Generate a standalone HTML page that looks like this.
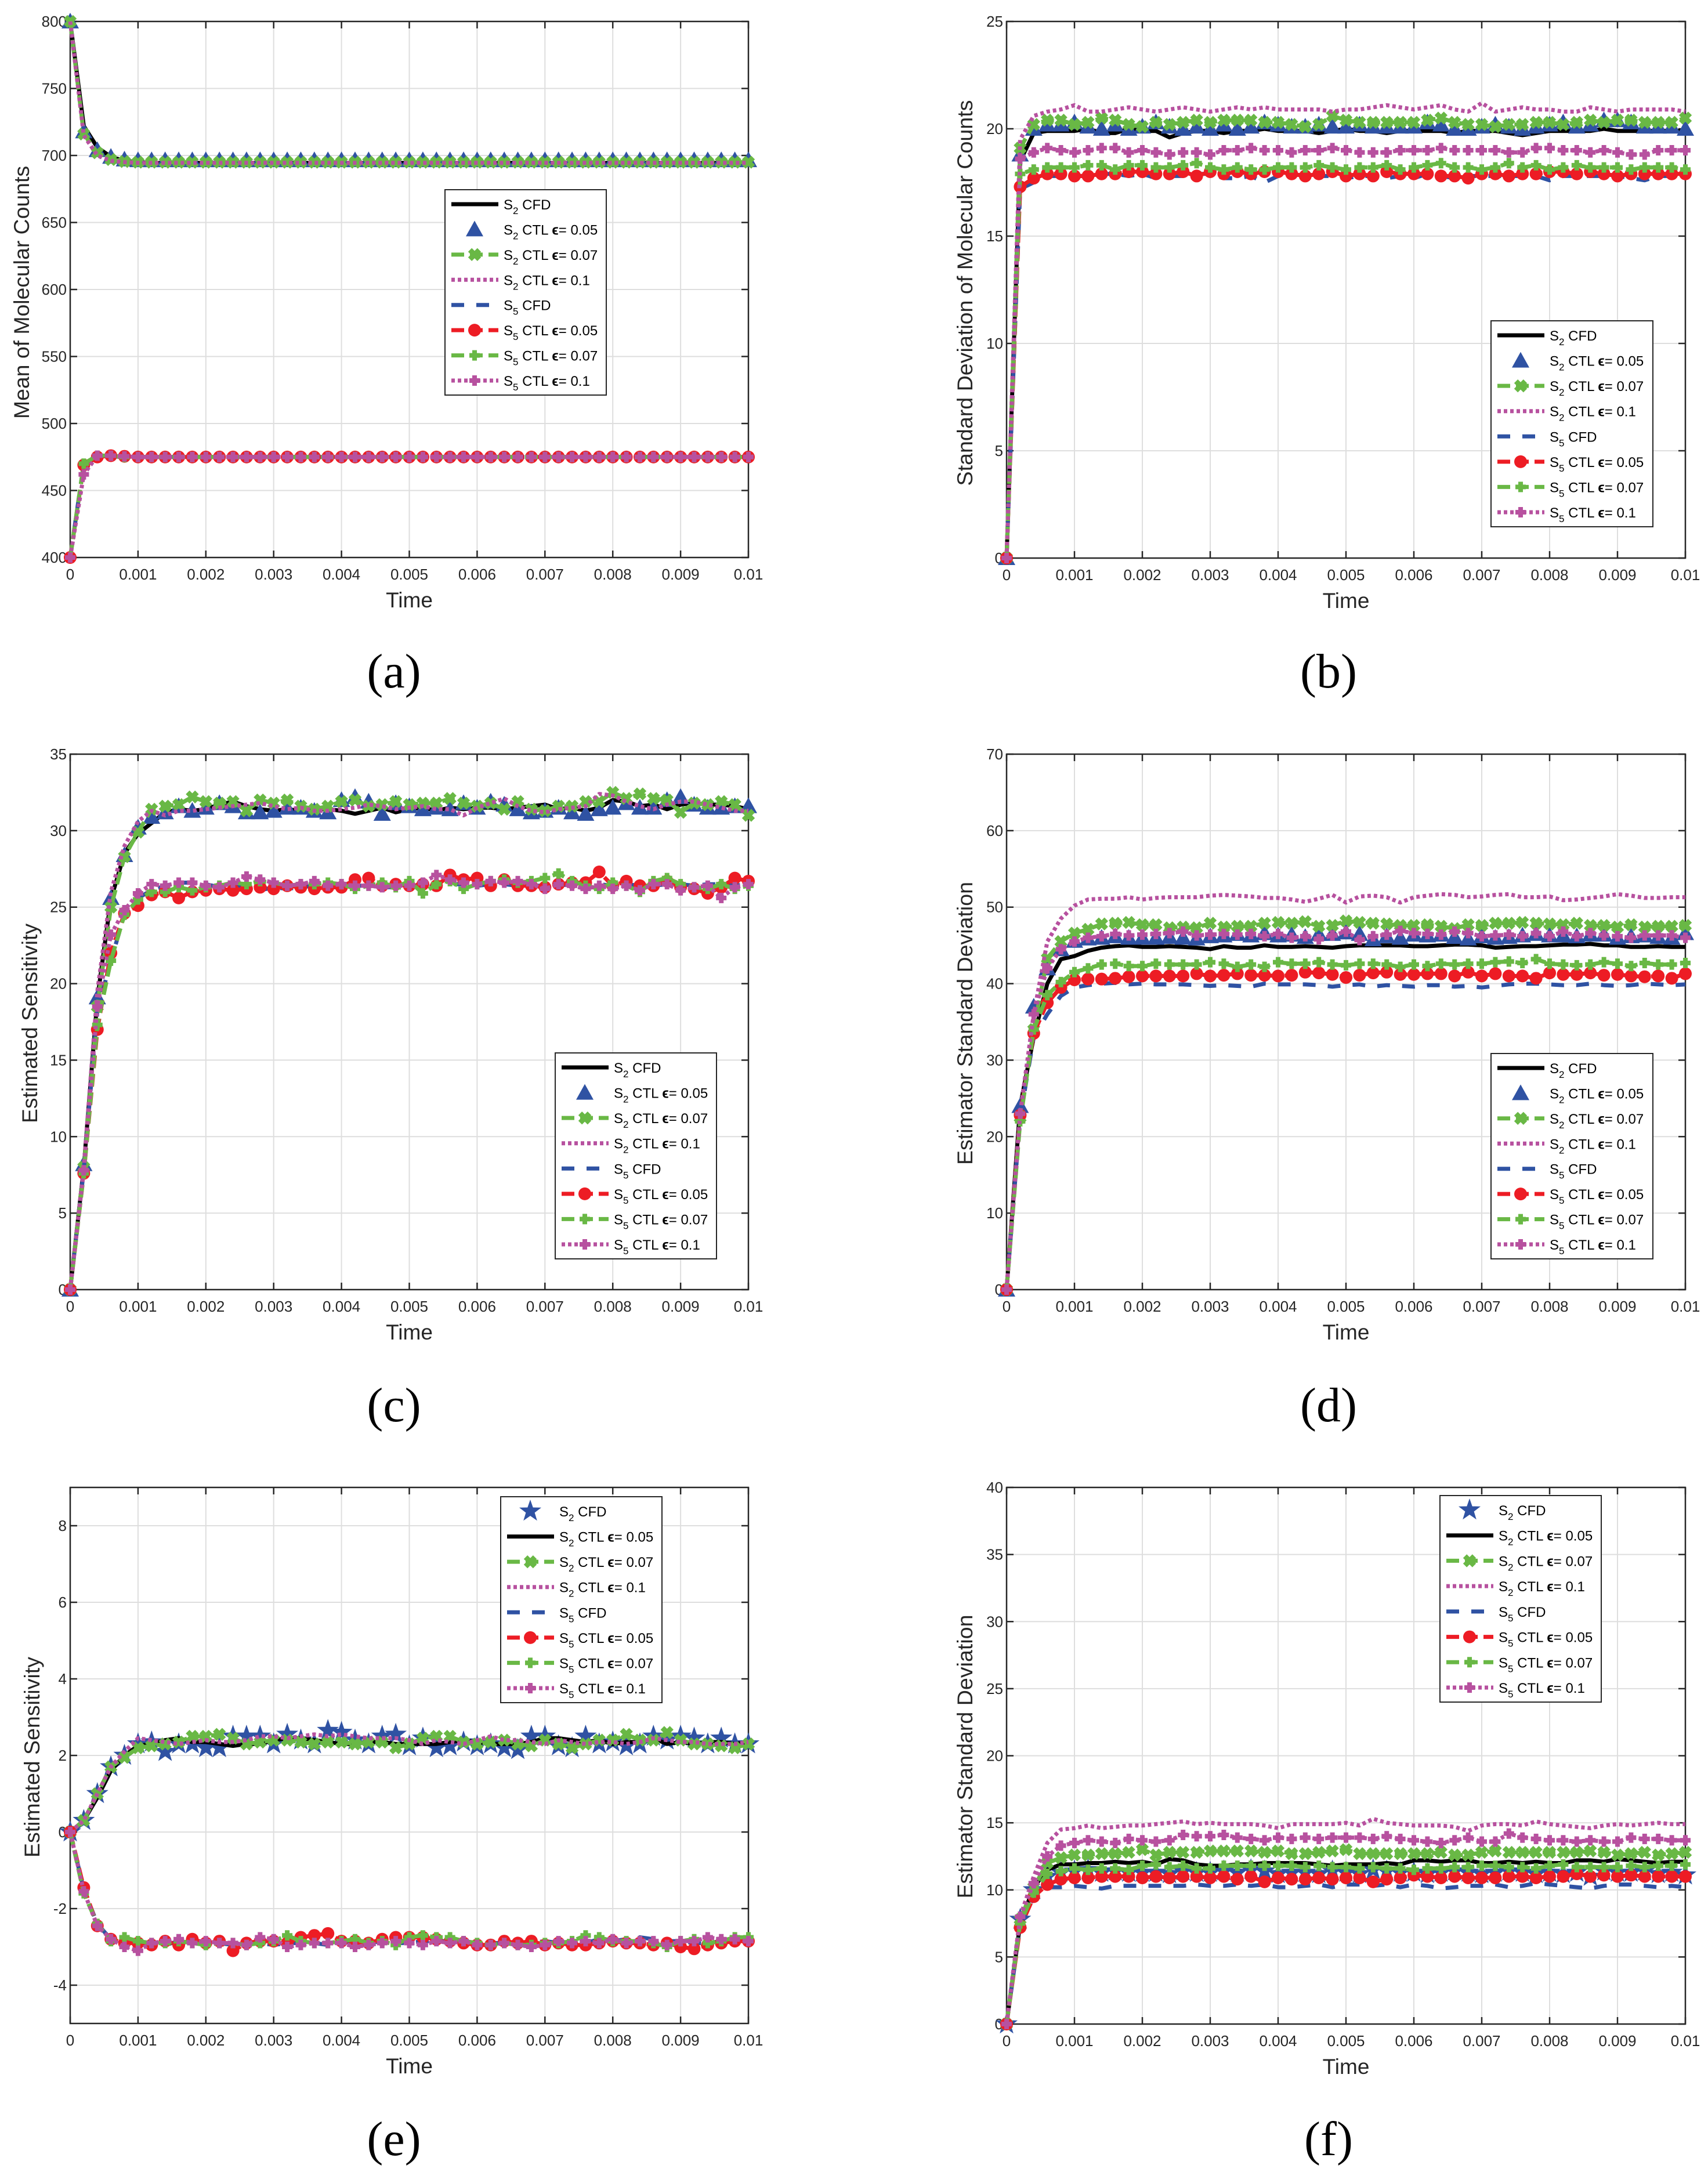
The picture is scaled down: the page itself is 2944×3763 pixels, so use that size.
<!DOCTYPE html>
<html><head><meta charset="utf-8"><title>CFD vs CTL comparison figure</title>
<style>
html,body{margin:0;padding:0;background:#fff;}
svg{display:block;font-family:"Liberation Sans",Arial,sans-serif;}
</style></head>
<body>
<svg id="fig" xmlns="http://www.w3.org/2000/svg" width="2944" height="3763" viewBox="0 0 2944 3763">
<rect x="0" y="0" width="2944" height="3763" fill="#fff"/>
</svg>
<script>
const time = [0,0.0002,0.0004,0.0006,0.0008,0.001,0.0012,0.0014,0.0016,0.0018,0.002,0.0022,0.0024,0.0026,0.0028,0.003,0.0032,0.0034,0.0036,0.0038,0.004,0.0042,0.0044,0.0046,0.0048,0.005,0.0052,0.0054,0.0056,0.0058,0.006,0.0062,0.0064,0.0066,0.0068,0.007,0.0072,0.0074,0.0076,0.0078,0.008,0.0082,0.0084,0.0086,0.0088,0.009,0.0092,0.0094,0.0096,0.0098,0.01];
const xTickLabels = ["0","0.001","0.002","0.003","0.004","0.005","0.006","0.007","0.008","0.009","0.01"];

// (a) mean of molecular counts
const aS2cfd = [800,722,706,699,696,695,694.5,694.5,694.5,694.5,694.5, 694.5,694.5,694.5,694.5,694.5,694.5,694.5,694.5,694.5,694.5, 694.5,694.5,694.5,694.5,694.5,694.5,694.5,694.5,694.5,694.5, 694.5,694.5,694.5,694.5,694.5,694.5,694.5,694.5,694.5,694.5, 694.5,694.5,694.5,694.5,694.5,694.5,694.5,694.5,694.5,694.5];
const aS2t05 = [800,718,704,699,697,696.5,696.5,696.5,696.5,696.5,696.5, 696.5,696.5,696.5,696.5,696.5,696.5,696.5,696.5,696.5,696.5, 696.5,696.5,696.5,696.5,696.5,696.5,696.5,696.5,696.5,696.5, 696.5,696.5,696.5,696.5,696.5,696.5,696.5,696.5,696.5,696.5, 696.5,696.5,696.5,696.5,696.5,696.5,696.5,696.5,696.5,696.5];
const aS2t07 = [800,716,702,697,695.5,695,695,695,695,695,695, 695,695,695,695,695,695,695,695,695,695, 695,695,695,695,695,695,695,695,695,695, 695,695,695,695,695,695,695,695,695,695, 695,695,695,695,695,695,695,695,695,695];
const aS2t1 = [800,715,700,696,695,694.5,694.5,694.5,694.5,694.5,694.5, 694.5,694.5,694.5,694.5,694.5,694.5,694.5,694.5,694.5,694.5, 694.5,694.5,694.5,694.5,694.5,694.5,694.5,694.5,694.5,694.5, 694.5,694.5,694.5,694.5,694.5,694.5,694.5,694.5,694.5,694.5, 694.5,694.5,694.5,694.5,694.5,694.5,694.5,694.5,694.5,694.5];
const aS5cfd = [400,470,474,475.5,475,475,475,475,475,475,475, 475,475,475,475,475,475,475,475,475,475, 475,475,475,475,475,475,475,475,475,475, 475,475,475,475,475,475,475,475,475,475, 475,475,475,475,475,475,475,475,475,475];
const aS5t05 = [400,469,475,476,475.5,475,475,475,475,475,475, 475,475,475,475,475,475,475,475,475,475, 475,475,475,475,475,475,475,475,475,475, 475,475,475,475,475,475,475,475,475,475, 475,475,475,475,475,475,475,475,475,475];
const aS5t07 = [400,470,476,476,475,475,475,475,475,475,475, 475,475,475,475,475,475,475,475,475,475, 475,475,475,475,475,475,475,475,475,475, 475,475,475,475,475,475,475,475,475,475, 475,475,475,475,475,475,475,475,475,475];
const aS5t1 = [400,462,476,476,475.5,475,475,475,475,475,475, 475,475,475,475,475,475,475,475,475,475, 475,475,475,475,475,475,475,475,475,475, 475,475,475,475,475,475,475,475,475,475, 475,475,475,475,475,475,475,475,475,475];

// (b) std of molecular counts
const bS2cfd = [0,18.5,19.8,19.9,19.9,19.9,20,19.8,19.8,20,19.9, 19.9,19.6,19.8,19.9,19.9,19.8,19.9,19.9,20,19.9, 19.9,19.9,19.8,19.9,20,19.9,19.9,19.8,19.9,19.9, 19.9,19.9,19.8,19.9,19.9,19.9,19.8,19.7,19.8,19.9, 19.9,19.9,19.9,20,19.9,19.9,19.9,19.9,19.9,19.9];
const bS2t05 = [0,18.8,20,20.2,20.2,20.3,20.1,20,20.2,20,20.1, 20.3,20.1,20,20.1,20,20.2,20,20.1,20.3,20.2, 20.1,20.1,20.2,20.1,20.1,20.2,20.1,20.1,20.1,20.1, 20.3,20.2,20,20,20.1,20.2,20.1,20,20.1,20.2, 20.3,20.1,20.2,20.4,20.4,20.3,20.1,20.1,20.1,20];
const bS2t07 = [0,19.1,20.2,20.4,20.4,20.2,20.3,20.5,20.4,20.2,20.1, 20.3,20.2,20.3,20.4,20.3,20.4,20.4,20.4,20.3,20.3, 20.2,20.1,20.2,20.6,20.4,20.3,20.3,20.3,20.3,20.3, 20.4,20.5,20.3,20.2,20.2,20.1,20.2,20.2,20.3,20.3, 20.2,20.3,20.4,20.3,20.4,20.4,20.3,20.3,20.3,20.5];
const bS2t1 = [0,19.5,20.6,20.8,20.9,21.1,20.8,20.8,20.9,21,20.9, 20.8,20.9,21,20.9,20.8,20.9,21,20.9,21,20.9, 20.9,20.9,20.9,20.8,20.9,20.9,21,21.1,21,20.9, 21,21.1,20.9,20.8,21.2,20.8,20.9,21,20.9,20.9, 20.8,20.8,21,20.9,20.8,20.9,20.9,20.9,20.9,20.8];
const bS5cfd = [0,17.2,17.5,17.8,17.8,17.8,17.8,17.9,17.9,17.8,17.9, 17.7,17.8,17.8,17.9,17.9,17.7,17.7,17.8,17.5,17.8, 17.9,17.8,17.8,17.8,17.7,17.8,17.8,17.7,17.8,17.7, 17.9,17.8,17.7,17.8,17.8,17.8,17.8,17.8,17.8,17.6, 17.8,17.8,17.8,17.8,17.8,17.7,17.6,17.8,17.8,17.9];
const bS5t05 = [0,17.3,17.7,17.9,17.9,17.8,17.8,17.9,17.9,18,18, 17.9,17.9,18,17.8,18,17.9,18,17.9,18,18, 17.9,17.8,17.9,18,17.8,17.9,17.8,18,17.9,17.9, 17.9,17.8,17.8,17.7,17.9,17.9,17.8,17.9,17.9,18, 18,17.9,18,17.9,17.8,17.9,17.9,17.9,17.9,17.9];
const bS5t07 = [0,17.9,18.1,18.2,18.2,18.2,18.3,18.3,18.1,18.3,18.3, 18.2,18.2,18.3,18.4,18.2,18.1,18.2,18.1,18.1,18.2, 18.2,18.2,18.3,18.2,18.1,18.2,18.2,18.3,18.1,18.2, 18.3,18.4,18.2,18.2,18.1,18.2,18.4,18.2,18.3,18.1, 18.2,18.3,18.2,18.2,18.2,18.1,18.2,18.2,18.2,18.1];
const bS5t1 = [0,18.6,18.9,19.1,19,18.9,19,19.1,19.1,18.9,19, 18.9,18.8,18.9,18.9,18.8,19,19,19.1,19,19, 18.9,19,19,19.1,19,18.9,18.9,18.9,19,19, 19,19.1,19,19,19,19,18.9,18.9,19.1,19.1, 19,19,18.9,19,18.9,18.8,18.8,19,19,19];

// (c) estimated sensitivity
const cS2cfd = [0,8,19,25.5,28.5,29.8,30.5,31.2,31.4,31.3,31.4, 31.7,31.9,31.6,31.4,31.3,31.4,31.3,31.4,31.4,31.3, 31.1,31.3,31.5,31.2,31.4,31.5,31.3,31.5,31.4,31.5, 31.5,31.4,31.5,31.6,31.7,31.4,31.5,31.3,31.5,32, 31.9,31.6,31.7,31.4,31.7,31.8,31.7,31.7,31.6,31.4];
const cS2t05 = [0,8.2,19.1,25.6,28.4,30.2,30.9,31.2,31.6,31.3,31.5, 31.8,31.6,31.2,31.2,31.3,31.5,31.5,31.3,31.2,32, 32.2,31.9,31.1,31.8,31.6,31.4,31.5,31.4,31.8,31.5, 31.9,31.7,31.4,31.2,31.3,31.5,31.2,31.1,31.4,31.5, 31.8,31.5,31.5,32,32.2,31.7,31.5,31.5,31.6,31.6];
const cS2t07 = [0,8,18.5,25,28.3,29.9,31.4,31.6,31.7,32.2,31.9, 31.8,31.9,31.3,32,31.8,32,31.6,31.4,31.6,31.9, 32,31.6,31.7,31.9,31.7,31.8,31.8,32.1,31.8,31.6, 31.8,31.4,31.9,31.4,31.3,31.6,31.6,31.9,31.9,32.5, 32.1,32.4,32.1,32,31.2,31.8,31.7,31.9,31.7,31];
const cS2t1 = [0,8,19.5,26,29,30.6,31.3,31,31.3,31.3,31.4, 31.5,31.6,31.7,31.8,31.6,31.4,31.5,31.3,31.3,31.4, 31.5,31.7,31.6,31.4,31.5,31.6,31.4,31.4,31,31.5, 31.8,32.1,31.6,31.3,31.2,31.4,31.5,31.6,32.4,32.3, 31.9,31.6,31.4,31.7,31.9,31.9,31.7,31.5,31.3,31.3];
const cS5cfd = [0,7.8,18.2,21.5,24.5,25.6,26.1,26.4,26.6,26.6,26.5, 26.3,26.5,26.3,26.1,26.3,26.2,26.3,26.4,26.3,26.3, 26.4,26.4,26.3,26.3,26.4,26.4,26.3,26.5,26.5,26.4, 26.5,26.5,26.4,26.4,26.4,26.5,26.4,26.5,26.5,26.4, 26.5,26.4,26.4,26.5,26.5,26.4,26.5,26.5,26.4,26.5];
const cS5t05 = [0,7.6,17,22,24.6,25.1,25.8,26,25.6,26,26.1, 26.2,26.1,26.2,26.3,26.2,26.4,26.3,26.2,26.3,26.3, 26.8,26.9,26.4,26.5,26.4,26.5,26.4,27.1,26.8,26.9, 26.4,26.8,26.4,26.4,26.3,26.5,26.6,26.6,27.3,26.4, 26.7,26.4,26.4,26.7,26.3,26.2,25.9,26.3,26.9,26.7];
const cS5t07 = [0,7.6,17.3,21.5,24.5,25.5,26,26,26.3,26.1,26.3, 26.4,26.6,26.5,26.7,26.6,26.4,26.5,26.5,26.6,26.5, 26.2,26.4,26.6,26.3,26.7,25.9,26.5,26.7,26.2,26.5, 26.7,26.8,26.6,26.7,26.9,27.2,26.7,26.4,26.2,26.6, 26.4,26,26.7,26.9,26.5,26.3,26.2,26.5,26.2,26.4];
const cS5t1 = [0,7.8,18.5,23.2,24.8,25.9,26.5,26.4,26.6,26.6,26.4, 26.3,26.6,27,26.8,26.6,26.4,26.5,26.7,26.4,26.5, 26.4,26.4,26.3,26.4,26.4,26.6,27.1,26.8,26.6,26.5, 26.7,26.6,26.7,26.5,26.2,26.5,26.4,26.2,26.4,26.2, 26.4,26.1,26.5,26.5,26.1,26.3,26.4,25.6,26.3,26.5];

// (d) estimator standard deviation
const dS2cfd = [0,24,33,40,43.2,43.6,44.3,44.7,44.9,45,44.8, 44.8,44.9,44.8,44.7,44.5,44.9,44.7,44.7,45,44.8, 44.8,44.9,44.8,44.7,44.9,45,45,45,45,44.9, 44.9,45,45.1,45.1,45,44.7,44.8,44.9,44.9,45, 45.1,45.1,45.2,45,45,44.8,44.8,44.9,44.8,44.8];
const dS2t05 = [0,24,37,42,44.5,45.6,45.9,46,46.2,46,46, 46,46.1,46,45.9,46.2,46.3,46.5,46.3,46.6,46.3, 46.4,46.1,46.5,46.5,46.7,46.5,45.8,46.2,46,46.4, 46.3,46.4,46.1,45.9,46.2,46,46.1,46.3,46.5,46.3, 46.3,46.2,46.4,46.4,46,46.2,46.3,46.1,46,46.6];
const dS2t07 = [0,22.5,34,43.3,45.5,46.6,47.1,47.8,47.9,48,47.7, 47.7,47.3,47.4,47.3,47.9,47.4,47.5,47.5,47.9,48, 47.9,48.1,47.5,47.6,48.2,48,47.9,47.8,47.6,47.6, 47.7,47.5,47.2,47.7,47.6,47.9,47.9,48,47.9,47.8, 47.7,47.9,47.6,47.6,47.4,47.7,47.4,47.5,47.5,47.6];
const dS2t1 = [0,23,36,45.5,48.5,50.2,51,51.1,51.1,51.3,51, 51.2,51.3,51.3,51.3,51.5,51.6,51.5,51.4,51.2,51.2, 51,50.7,51.1,51.6,50.6,51.4,51.5,51.3,50.6,51.3, 51.5,51.7,51.6,51.3,51.4,51.6,51.7,51.3,51.3,51.4, 50.9,51,51.2,51.4,51.7,51.5,51.2,51.2,51.3,51.3];
const dS5cfd = [0,22.5,33,36,38.4,39.5,39.8,40,40.1,39.9,40, 39.9,39.9,39.9,39.8,39.7,39.8,39.7,39.6,40,39.9, 39.9,39.9,39.8,39.6,39.8,39.9,39.6,39.8,39.7,39.6, 39.8,39.8,39.6,39.7,39.5,39.7,39.9,40,40,39.9, 39.8,39.8,40,39.8,39.7,39.8,40,39.9,39.8,39.9];
const dS5t05 = [0,22.8,33.5,37.5,39.5,40.5,40.6,40.6,40.7,40.9,41, 41,41,41,41.3,41,41.1,41.3,41.1,41.1,41, 41.1,41.5,41.4,41.2,40.8,41.1,41.4,41.5,41.2,41.2, 41.3,41.3,41,41.5,41,41.3,41,41,40.7,41.4, 41.2,41.2,41.4,41.1,41.2,41,40.9,41,40.7,41.3];
const dS5t07 = [0,22,34,38.5,40.2,41.5,42,42.5,42.6,42.3,42.3, 42.6,42.5,42.5,42.5,42.8,42.6,42.2,42.5,42.2,42.8, 42.6,42.6,42.8,42.5,42.4,42.6,42.6,42.5,42.2,42.5, 42.3,42.6,42.5,42.6,42.6,42.8,42.9,42.7,43.2,42.6, 42.5,42.4,42.5,42.8,42.6,42.3,42.7,42.5,42.5,42.7];
const dS5t1 = [0,23,36,42,44.5,45.5,46,46.2,46.5,46.3,46.4, 46.5,46.6,46.8,46.3,46.4,46.5,46.4,46.5,46.2,46.5, 46,46.2,45.8,46.3,46.8,45.7,46.2,46.4,46.9,46.6, 46.5,46.4,46.8,46.6,46.2,46.3,46.4,46.2,46.6,46.2, 46.8,46.2,46.6,46.3,46.2,46,46.3,46.3,46.3,46];

// (e) estimated sensitivity
const eS2cfd = [0,0.3,1.0,1.7,2.0,2.3,2.35,2.1,2.3,2.3,2.2, 2.2,2.5,2.5,2.5,2.3,2.55,2.4,2.3,2.65,2.6, 2.4,2.3,2.5,2.55,2.25,2.45,2.2,2.25,2.35,2.25, 2.3,2.2,2.15,2.5,2.5,2.25,2.2,2.5,2.3,2.35, 2.25,2.3,2.5,2.4,2.5,2.45,2.3,2.45,2.3,2.3];
const eS2t05 = [0,0.3,0.9,1.6,2.0,2.25,2.3,2.4,2.45,2.35,2.35, 2.3,2.25,2.3,2.3,2.4,2.45,2.45,2.4,2.35,2.3, 2.3,2.35,2.35,2.3,2.3,2.3,2.3,2.35,2.4,2.35, 2.3,2.3,2.3,2.35,2.45,2.45,2.4,2.35,2.4,2.3, 2.35,2.35,2.45,2.3,2.35,2.3,2.35,2.35,2.3,2.35];
const eS2t07 = [0,0.3,1.0,1.7,1.95,2.2,2.25,2.3,2.35,2.5,2.5, 2.55,2.45,2.3,2.35,2.4,2.4,2.35,2.3,2.35,2.35, 2.3,2.35,2.35,2.2,2.3,2.45,2.5,2.5,2.35,2.3, 2.35,2.4,2.3,2.25,2.4,2.3,2.2,2.3,2.4,2.4, 2.55,2.4,2.4,2.6,2.4,2.3,2.3,2.25,2.2,2.3];
const eS2t1 = [0,0.3,1.0,1.7,2.1,2.45,2.4,2.35,2.3,2.35,2.4, 2.35,2.35,2.4,2.5,2.5,2.45,2.5,2.55,2.5,2.55, 2.5,2.45,2.45,2.45,2.4,2.3,2.4,2.35,2.3,2.4, 2.5,2.4,2.4,2.35,2.3,2.4,2.35,2.3,2.35,2.35, 2.3,2.35,2.45,2.4,2.35,2.35,2.3,2.3,2.3,2.35];
const eS5cfd = [0,-1.5,-2.4,-2.8,-2.85,-2.9,-2.9,-2.95,-2.85,-2.9,-2.9, -2.9,-2.95,-2.9,-2.9,-2.95,-2.9,-2.9,-2.9,-2.95,-2.9, -2.85,-2.9,-2.85,-2.9,-2.9,-2.85,-2.85,-2.85,-2.85,-2.9, -2.9,-2.9,-2.95,-2.9,-2.85,-2.9,-2.9,-2.9,-2.8,-2.85, -2.8,-2.75,-2.8,-2.85,-2.85,-2.9,-2.9,-2.85,-2.85,-2.8];
const eS5t05 = [0,-1.45,-2.45,-2.8,-2.9,-2.9,-2.95,-2.85,-2.95,-2.8,-2.9, -2.85,-3.1,-2.9,-2.85,-2.85,-2.9,-2.75,-2.7,-2.65,-2.85, -2.85,-2.9,-2.8,-2.75,-2.75,-2.75,-2.8,-2.85,-2.9,-2.95, -2.95,-2.85,-2.9,-2.85,-2.95,-2.9,-2.95,-2.95,-2.9,-2.85, -2.9,-2.9,-2.95,-2.9,-3.0,-3.05,-2.95,-2.9,-2.85,-2.85];
const eS5t07 = [0,-1.6,-2.4,-2.85,-2.75,-2.85,-2.9,-2.9,-2.85,-2.9,-2.95, -2.9,-2.9,-2.95,-2.9,-2.85,-2.7,-2.85,-2.9,-2.9,-2.85, -2.8,-2.9,-2.85,-2.95,-2.75,-2.7,-2.75,-2.75,-2.85,-2.9, -2.95,-2.9,-2.95,-2.95,-2.9,-2.9,-2.85,-2.7,-2.75,-2.85, -2.85,-2.85,-2.9,-3.0,-2.85,-2.8,-2.9,-2.85,-2.75,-2.75];
const eS5t1 = [0,-1.55,-2.45,-2.8,-3.0,-3.1,-2.9,-2.85,-2.8,-2.9,-2.85, -2.9,-2.9,-2.95,-2.75,-2.8,-3.0,-2.95,-2.9,-2.9,-2.9, -3.0,-2.95,-2.9,-2.85,-2.9,-2.95,-2.85,-2.9,-2.85,-2.95, -2.95,-2.9,-2.95,-3.0,-2.95,-2.85,-2.9,-2.85,-2.9,-2.8, -2.9,-2.85,-2.85,-2.95,-2.85,-2.85,-2.75,-2.8,-2.8,-2.85];

// (f) estimator standard deviation
const fS2cfd = [0,7.8,10,11,11.3,11.4,11.5,11.3,11.4,11.3,11.3, 11.3,11.2,11.4,11.3,11.3,11.4,11.3,11.5,11.4,11.2, 11.3,11.3,11.2,11.4,11.3,11.2,11.5,11.4,11.3,11.3, 11.2,11.3,11.4,11.3,11.2,11.3,11.4,11.3,11.2,11.3, 11.2,11.3,11.0,11.4,11.3,11.3,11.4,11.2,11.3,11.1];
const fS2t05 = [0,7.5,10.2,11.5,11.9,11.9,12,12,12.1,12,12.1, 11.9,12.3,12.2,11.9,11.8,11.8,11.9,11.9,12,12, 12,12,11.9,11.8,11.9,11.9,11.9,12,11.9,12.2, 12.2,12.1,12.2,12.2,12,12,12.1,12,12.1,12, 12,12.2,12.2,12.1,12.3,12.2,12.1,12,12.1,12.1];
const fS2t07 = [0,7.8,10.2,12,12.4,12.6,12.6,12.7,12.7,12.8,13, 12.6,12.8,12.8,12.8,12.9,12.9,12.9,12.9,12.8,12.9, 12.7,12.7,12.8,12.9,13,12.7,12.7,12.7,12.7,12.7, 12.7,12.8,12.6,12.6,12.8,12.9,12.8,12.8,12.8,12.8, 12.8,12.8,12.9,12.8,12.6,12.7,12.8,12.6,12.7,12.8];
const fS2t1 = [0,8,11,13.5,14.5,14.6,14.8,14.6,14.7,14.8,14.8, 14.9,15,15.1,14.9,15,14.9,14.9,14.9,14.8,14.6, 14.9,14.9,14.9,14.9,15,14.8,15.3,15,14.9,14.8, 14.8,14.8,14.7,14.4,14.8,14.9,14.9,14.8,15.1,14.9, 14.8,14.7,14.6,14.8,14.9,14.8,14.9,15,14.9,14.9];
const fS5cfd = [0,7.3,9.5,10.2,10.2,10.3,10.2,10.1,10.3,10.3,10.3, 10.3,10.3,10.3,10.4,10.3,10.3,10.4,10.3,10.4,10.2, 10.2,10.3,10.4,10.2,10.4,10.4,10.3,10.4,10.2,10.4, 10.3,10.1,10.2,10.3,10.3,10.4,10.2,10.3,10.5,10.4, 10.3,10.2,10.1,10.3,10.4,10.4,10.3,10.2,10.3,10.2];
const fS5t05 = [0,7.2,9.5,10.4,10.8,10.9,10.9,11,11,11,10.9, 11,10.9,11,11,10.9,11,10.8,11,10.6,10.9, 10.8,10.8,10.9,10.8,10.9,10.9,10.6,10.8,10.9,11.1, 11,10.9,11,10.9,10.9,10.9,11,11,10.9,11, 11,11.2,11,11.1,11,11.1,11,11,11,11];
const fS5t07 = [0,7.5,9.8,11.2,11.4,11.6,11.5,11.6,11.6,11.5,11.8, 11.9,11.7,11.8,11.6,11.6,11.8,11.8,11.8,11.8,11.8, 11.8,11.7,11.8,11.7,11.7,11.6,11.7,11.6,11.6,11.5, 11.6,11.6,11.7,11.7,11.8,11.8,11.7,11.7,11.6,11.8, 11.9,11.7,11.7,11.7,11.7,11.8,11.7,11.8,11.8,11.9];
const fS5t1 = [0,8,10.5,12.5,13.3,13.5,13.7,13.6,13.5,13.8,13.7, 13.6,13.7,14.1,14,14,14.1,13.9,13.8,13.7,13.9, 13.8,13.9,13.8,13.9,13.9,13.9,13.8,14,13.8,13.7, 13.6,13.5,13.7,13.9,13.6,13.6,14.2,13.9,13.8,13.7, 13.7,13.6,13.7,13.6,13.6,13.9,13.8,13.8,13.7,13.7];

const yTicksA = [400,450,500,550,600,650,700,750,800];
const yTicksB = [0,5,10,15,20,25];
const yTicksC = [0,5,10,15,20,25,30,35];
const yTicksD = [0,10,20,30,40,50,60,70];
const yTicksE = [-4,-2,0,2,4,6,8];
const yTicksF = [0,5,10,15,20,25,30,35,40];

const NS = "http://www.w3.org/2000/svg";
const svg = document.getElementById("fig");
function mk(tag, attrs, parent){
  const el = document.createElementNS(NS, tag);
  for (const k in attrs) el.setAttribute(k, attrs[k]);
  (parent||svg).appendChild(el);
  return el;
}

const GREEN="#69b845", MAG="#b7519f", BLUE="#2f52a3", RED="#ed1c24";
const ST = {
  black:{color:"#000",dash:null,w:7,marker:null,line:true},
  tri:{color:BLUE,dash:null,w:6,marker:"tri",line:false},
  star:{color:BLUE,dash:null,w:6,marker:"star",line:false},
  greenX:{color:GREEN,dash:"22 10",w:7,marker:"x",line:true},
  magDot:{color:MAG,dash:"6 5",w:7,marker:null,line:true},
  blueDash:{color:BLUE,dash:"22 21",w:7,marker:null,line:true},
  redCirc:{color:RED,dash:"22 10",w:7,marker:"circle",line:true},
  greenPlus:{color:GREEN,dash:"22 10",w:7,marker:"plus",line:true},
  magPlus:{color:MAG,dash:"6 5",w:7,marker:"plus",line:true}
};

function drawMarker(type, cx, cy, color, g){
  let el;
  if (type==="tri"){
    el = mk("polygon",{points:`${cx},${cy-15} ${cx+15},${cy+12} ${cx-15},${cy+12}`,fill:color},g);
    
    
  } else if (type==="star"){
    let pts=[];
    for(let k=0;k<10;k++){const r=k%2?8:20;const a=-Math.PI/2+k*Math.PI/5;pts.push((cx+r*Math.cos(a)).toFixed(1)+","+(cy+r*Math.sin(a)).toFixed(1));}
    el = mk("polygon",{points:pts.join(" "),fill:color},g);
    
    
  } else if (type==="circle"){
    el = mk("circle",{cx:cx,cy:cy,r:11,fill:color},g);
    
    
  } else if (type==="plus"){
    el = mk("path",{d:`M${cx-9} ${cy}H${cx+9}M${cx} ${cy-9}V${cy+9}`,stroke:color,"stroke-width":8,fill:"none"},g);
    
    
  } else if (type==="x"){
    el = mk("path",{d:`M${cx-8} ${cy-8}L${cx+8} ${cy+8}M${cx+8} ${cy-8}L${cx-8} ${cy+8}`,stroke:color,"stroke-width":9,fill:"none"},g);
    
    
  }
}

function legendLabel(g, x, y, sub, rest){
  const t = mk("text",{x:x,y:y,"font-size":24,fill:"#000"},g);
  
  
  t.appendChild(document.createTextNode("S"));
  const s = mk("tspan",{dy:8,"font-size":17},t);
  s.textContent = sub;
  const r1 = mk("tspan",{dy:-8},t);
  if (rest === "CFD"){ r1.textContent = " CFD"; }
  else {
    r1.textContent = " CTL ";
    const e = mk("tspan",{"font-weight":"bold"},t);
    e.textContent = "\u03F5";
    const r2 = mk("tspan",{},t);
    r2.textContent = "= " + rest;
  }
}

function panel(cfg){
  const g = mk("g",{});
  
  
  const {x0,x1,y0,y1,ymin,ymax} = cfg;
  const X = t => x0 + (t-0)/(0.01-0)*(x1-x0);
  const Y = v => y1 - (v-ymin)/(ymax-ymin)*(y1-y0);
  mk("rect",{x:x0,y:y0,width:x1-x0,height:y1-y0,fill:"#fff"},g);
  // grid
  const xt = [0,0.001,0.002,0.003,0.004,0.005,0.006,0.007,0.008,0.009,0.01];
  xt.forEach((t,i)=>{
    const gl = mk("line",{x1:X(t),x2:X(t),y1:y0,y2:y1,stroke:"#dedede","stroke-width":2},g);
    
    
  });
  cfg.yticks.forEach(v=>{
    const gl = mk("line",{x1:x0,x2:x1,y1:Y(v),y2:Y(v),stroke:"#dedede","stroke-width":2},g);
    
    
  });
  // box & ticks
  const box = mk("rect",{x:x0,y:y0,width:x1-x0,height:y1-y0,fill:"none",stroke:"#262626","stroke-width":2.5},g);
  
  
  xt.forEach((t,i)=>{
    mk("line",{x1:X(t),x2:X(t),y1:y1,y2:y1-12,stroke:"#262626","stroke-width":2.5},g);
    mk("line",{x1:X(t),x2:X(t),y1:y0,y2:y0+12,stroke:"#262626","stroke-width":2.5},g);
    const lb = mk("text",{x:X(t),y:y1+38,"font-size":26,"text-anchor":"middle",fill:"#262626"},g);
    
    
    lb.textContent = xTickLabels[i];
  });
  cfg.yticks.forEach(v=>{
    mk("line",{x1:x0,x2:x0+12,y1:Y(v),y2:Y(v),stroke:"#262626","stroke-width":2.5},g);
    mk("line",{x1:x1,x2:x1-12,y1:Y(v),y2:Y(v),stroke:"#262626","stroke-width":2.5},g);
    const lb = mk("text",{x:x0-6,y:Y(v)+9,"font-size":26,"text-anchor":"end",fill:"#262626"},g);
    
    
    lb.textContent = String(v);
  });
  // series
  cfg.series.forEach(s=>{
    const st = ST[s.style];
    const sg = mk("g",{},g);
    
    
    if (st.line){
      const d = s.data.map((v,i)=>(i?"L":"M")+X(time[i]).toFixed(1)+" "+Y(v).toFixed(1)).join("");
      const p = mk("path",{d:d,fill:"none",stroke:st.color,"stroke-width":st.w,"stroke-linejoin":"round"},sg);
      if (st.dash) p.setAttribute("stroke-dasharray", st.dash);
      
      
    }
    if (st.marker){
      s.data.forEach((v,i)=>drawMarker(st.marker, X(time[i]), Y(v), st.color, sg));
    }
  });
  // axis labels
  const xl = mk("text",{x:(x0+x1)/2,y:y1+86,"font-size":37,"text-anchor":"middle",fill:"#262626"},g);
  
  
  xl.textContent = "Time";
  const yl = mk("text",{x:0,y:0,"font-size":37,"text-anchor":"middle",fill:"#262626",textLength:cfg.ylen,lengthAdjust:"spacingAndGlyphs",transform:`translate(${cfg.ylx},${cfg.yly}) rotate(-90)`},g);
  
  
  yl.textContent = cfg.ylabel;
  const pl = mk("text",{x:cfg.plx,y:cfg.ply,"font-size":84,"text-anchor":"middle",fill:"#000","font-family":"Liberation Serif, serif"},g);
  
  
  pl.textContent = cfg.panel;
  // legend
  const L = cfg.legend;
  const lg = mk("g",{},g);
  
  
  mk("rect",{x:L.x,y:L.y,width:L.w,height:L.h,fill:"#fff",stroke:"#262626","stroke-width":2},lg);
  const step = (L.h-50)/7;
  cfg.series.forEach((s,k)=>{
    const st = ST[s.style];
    const cy = L.y + 25 + k*step;
    const eg = mk("g",{},lg);
    
    
    if (st.line){
      const ln = mk("line",{x1:L.x+11,x2:L.x+92,y1:cy,y2:cy,stroke:st.color,"stroke-width":st.w},eg);
      if (st.dash) ln.setAttribute("stroke-dasharray", st.dash === "22 21" ? "22 21" : st.dash);
    }
    if (st.marker) drawMarker(st.marker, L.x+51, cy, st.color, eg);
    legendLabel(eg, L.x+101, cy+9, s.sub, s.eps);
  });
}

const legA = [["S2-CFD","black","2","CFD"],["S2-CTL-005","tri","2","0.05"],["S2-CTL-007","greenX","2","0.07"],["S2-CTL-01","magDot","2","0.1"],["S5-CFD","blueDash","5","CFD"],["S5-CTL-005","redCirc","5","0.05"],["S5-CTL-007","greenPlus","5","0.07"],["S5-CTL-01","magPlus","5","0.1"]];
const legE = [["S2-CFD","star","2","CFD"],["S2-CTL-005","black","2","0.05"],["S2-CTL-007","greenX","2","0.07"],["S2-CTL-01","magDot","2","0.1"],["S5-CFD","blueDash","5","CFD"],["S5-CTL-005","redCirc","5","0.05"],["S5-CTL-007","greenPlus","5","0.07"],["S5-CTL-01","magPlus","5","0.1"]];
function mkSeries(leg, arrs){ return leg.map((l,i)=>({name:l[0].toLowerCase()+"-series",style:l[1],sub:l[2],eps:l[3],data:arrs[i]})); }

panel({name:"panel-a",panel:"(a)",x0:121,x1:1290,y0:37,y1:961,ymin:400,ymax:800,yticks:yTicksA,
  ylabel:"Mean of Molecular Counts",ylen:436,ylx:50,yly:504,plx:679,ply:1185,
  legend:{x:767,y:327,w:278,h:354},
  series:mkSeries(legA,[aS2cfd,aS2t05,aS2t07,aS2t1,aS5cfd,aS5t05,aS5t07,aS5t1])});
panel({name:"panel-b",panel:"(b)",x0:1735,x1:2905,y0:37,y1:962,ymin:0,ymax:25,yticks:yTicksB,
  ylabel:"Standard Deviation of Molecular Counts",ylen:665,ylx:1676,yly:505,plx:2290,ply:1185,
  legend:{x:2570,y:553,w:279,h:355},
  series:mkSeries(legA,[bS2cfd,bS2t05,bS2t07,bS2t1,bS5cfd,bS5t05,bS5t07,bS5t1])});
panel({name:"panel-c",panel:"(c)",x0:121,x1:1290,y0:1300,y1:2223,ymin:0,ymax:35,yticks:yTicksC,
  ylabel:"Estimated Sensitivity",ylen:344,ylx:64,yly:1764,plx:679,ply:2450,
  legend:{x:957,y:1815,w:278,h:355},
  series:mkSeries(legA,[cS2cfd,cS2t05,cS2t07,cS2t1,cS5cfd,cS5t05,cS5t07,cS5t1])});
panel({name:"panel-d",panel:"(d)",x0:1735,x1:2905,y0:1300,y1:2223,ymin:0,ymax:70,yticks:yTicksD,
  ylabel:"Estimator Standard Deviation",ylen:488,ylx:1676,yly:1764,plx:2290,ply:2450,
  legend:{x:2570,y:1816,w:279,h:354},
  series:mkSeries(legA,[dS2cfd,dS2t05,dS2t07,dS2t1,dS5cfd,dS5t05,dS5t07,dS5t1])});
panel({name:"panel-e",panel:"(e)",x0:121,x1:1290,y0:2564,y1:3488,ymin:-5,ymax:9,yticks:yTicksE,
  ylabel:"Estimated Sensitivity",ylen:346,ylx:68,yly:3029,plx:679,ply:3715,
  legend:{x:863,y:2580,w:278,h:355},
  series:mkSeries(legE,[eS2cfd,eS2t05,eS2t07,eS2t1,eS5cfd,eS5t05,eS5t07,eS5t1])});
panel({name:"panel-f",panel:"(f)",x0:1735,x1:2905,y0:2564,y1:3489,ymin:0,ymax:40,yticks:yTicksF,
  ylabel:"Estimator Standard Deviation",ylen:489,ylx:1676,yly:3028,plx:2290,ply:3715,
  legend:{x:2482,y:2578,w:278,h:356},
  series:mkSeries(legE,[fS2cfd,fS2t05,fS2t07,fS2t1,fS5cfd,fS5t05,fS5t07,fS5t1])});
</script>
</body></html>
